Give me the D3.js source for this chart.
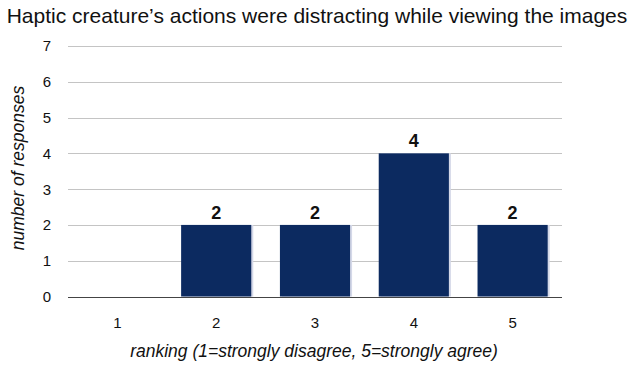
<!DOCTYPE html>
<html>
<head>
<meta charset="utf-8">
<script src="https://cdn.jsdelivr.net/npm/d3@7"></script>
<style>
  body { margin: 0; background: #fff; }
  svg { display: block; font-family: "Liberation Sans", Arial, sans-serif; }
</style>
</head>
<body>
<svg></svg>
<script>
let rankings = ["1", "2", "3", "4", "5"];
let responses = [0, 2, 2, 4, 2];
let yTicks = [0, 1, 2, 3, 4, 5, 6, 7];

let width = 635;
let height = 367;
let margin = { top: 46, right: 73, bottom: 70.5, left: 68 };

let data = rankings.map((r, i) => ({ rank: r, value: responses[i] }));

let svg = d3.select("svg").attr("width", width).attr("height", height);

let x = d3
  .scaleBand()
  .domain(rankings)
  .range([margin.left, width - margin.right])
  .paddingInner(0.29)
  .paddingOuter(0.145);

let y = d3
  .scaleLinear()
  .domain([0, 7])
  .range([height - margin.bottom, margin.top]);

// gridlines
svg
  .append("g")
  .selectAll("line")
  .data(yTicks)
  .join("line")
  .attr("x1", margin.left)
  .attr("x2", width - margin.right)
  .attr("y1", (d) => Math.round(y(d)) + 0.5)
  .attr("y2", (d) => Math.round(y(d)) + 0.5)
  .style("stroke", (d) => (d == 0 ? "#444" : "#c4c4c4"))
  .style("stroke-width", 1);

// y tick labels
svg
  .append("g")
  .selectAll("text")
  .data(yTicks)
  .join("text")
  .attr("x", 51)
  .attr("y", (d) => y(d))
  .attr("dy", "0.36em")
  .attr("text-anchor", "end")
  .style("font-size", "15px")
  .style("fill", "#111")
  .text((d) => d);

// faint shadow on the right of each bar
svg
  .append("g")
  .selectAll("rect")
  .data(data)
  .join("rect")
  .attr("x", (d) => x(d.rank) + 2)
  .attr("y", (d) => y(d.value))
  .attr("width", x.bandwidth())
  .attr("height", (d) => y(0) - y(d.value))
  .style("fill", "#d4d8e8");

let bars = svg
  .append("g")
  .selectAll("rect")
  .data(data)
  .join("rect")
  .attr("x", (d) => x(d.rank))
  .attr("y", (d) => y(d.value))
  .attr("width", x.bandwidth())
  .attr("height", (d) => y(0) - y(d.value))
  .style("fill", "#0c2a60");

// value labels
svg
  .append("g")
  .selectAll("text")
  .data(data.filter((d) => d.value > 0))
  .join("text")
  .attr("x", (d) => x(d.rank) + x.bandwidth() / 2)
  .attr("y", (d) => y(d.value) - 6)
  .attr("text-anchor", "middle")
  .style("font-size", "18px")
  .style("font-weight", "bold")
  .style("fill", "#111")
  .style("stroke", "#fff")
  .style("stroke-width", 3)
  .style("paint-order", "stroke")
  .text((d) => d.value);

// x tick labels
svg
  .append("g")
  .selectAll("text")
  .data(rankings)
  .join("text")
  .attr("x", (d) => x(d) + x.bandwidth() / 2)
  .attr("y", 328)
  .attr("text-anchor", "middle")
  .style("font-size", "15px")
  .style("fill", "#111")
  .text((d) => d);

// axis titles
svg
  .append("text")
  .attr("x", 314)
  .attr("y", 357)
  .attr("text-anchor", "middle")
  .style("font-size", "17.5px")
  .style("font-style", "italic")
  .style("fill", "#111")
  .text("ranking (1=strongly disagree, 5=strongly agree)");

svg
  .append("text")
  .attr("transform", "translate(24,168) rotate(-90)")
  .attr("text-anchor", "middle")
  .style("font-size", "17.5px")
  .style("font-style", "italic")
  .style("fill", "#111")
  .text("number of responses");

// title
svg
  .append("text")
  .attr("x", 317)
  .attr("y", 23)
  .attr("text-anchor", "middle")
  .style("font-size", "21px")
  .style("fill", "#111")
  .text("Haptic creature\u2019s actions were distracting while viewing the images");
</script>
</body>
</html>
